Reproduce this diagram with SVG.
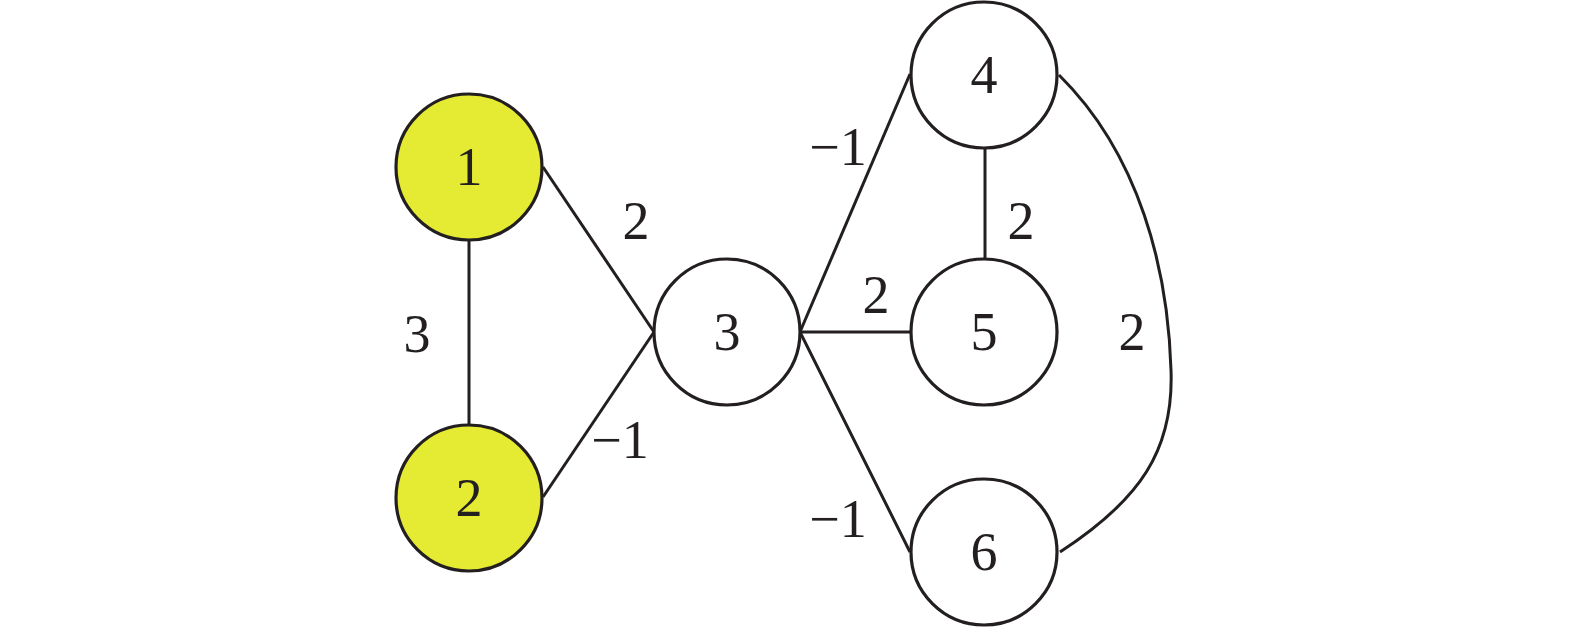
<svg xmlns="http://www.w3.org/2000/svg" width="1575" height="632" viewBox="0 0 1575 632">
<style>
.n{stroke:#231f20;stroke-width:3.2;fill:#fff}
.y{fill:#e5eb32}
.e{stroke:#231f20;stroke-width:3;fill:none}
text{font-family:"Liberation Serif","Times New Roman",serif;font-size:54px;fill:#231f20;text-anchor:middle}
</style>
<rect width="1575" height="632" fill="#fff"/>
<g id="connectors">
<line class="e" x1="469" y1="240" x2="469" y2="425"/>
<line class="e" x1="543" y1="167" x2="654" y2="332"/>
<line class="e" x1="543" y1="497" x2="654" y2="332"/>
<line class="e" x1="800" y1="332" x2="910" y2="74"/>
<line class="e" x1="800" y1="332" x2="910" y2="332"/>
<line class="e" x1="800" y1="332" x2="910" y2="552"/>
<line class="e" x1="985" y1="149" x2="985" y2="259"/>
<path class="e" d="M1059,75 C1140,155 1168,270 1171,370 C1174,450 1140,500 1060,552"/>
<text x="636" y="239">2</text>
<text x="417" y="352">3</text>
<text x="620" y="458">−1</text>
<text x="838" y="165">−1</text>
<text x="1021" y="239">2</text>
<text x="876" y="313">2</text>
<text x="1132" y="350">2</text>
<text x="838" y="537">−1</text>
</g>
<g id="node1"><circle class="n y" cx="469" cy="167" r="73"/><text x="469" y="185">1</text></g>
<g id="node2"><circle class="n y" cx="469" cy="498" r="73"/><text x="469" y="516">2</text></g>
<g id="node3"><circle class="n" cx="727" cy="332" r="73"/><text x="727" y="350">3</text></g>
<g id="node4"><circle class="n" cx="984" cy="75" r="73"/><text x="984" y="93">4</text></g>
<g id="node5"><circle class="n" cx="984" cy="332" r="73"/><text x="984" y="350">5</text></g>
<g id="node6"><circle class="n" cx="984" cy="552" r="73"/><text x="984" y="570">6</text></g>
</svg>
